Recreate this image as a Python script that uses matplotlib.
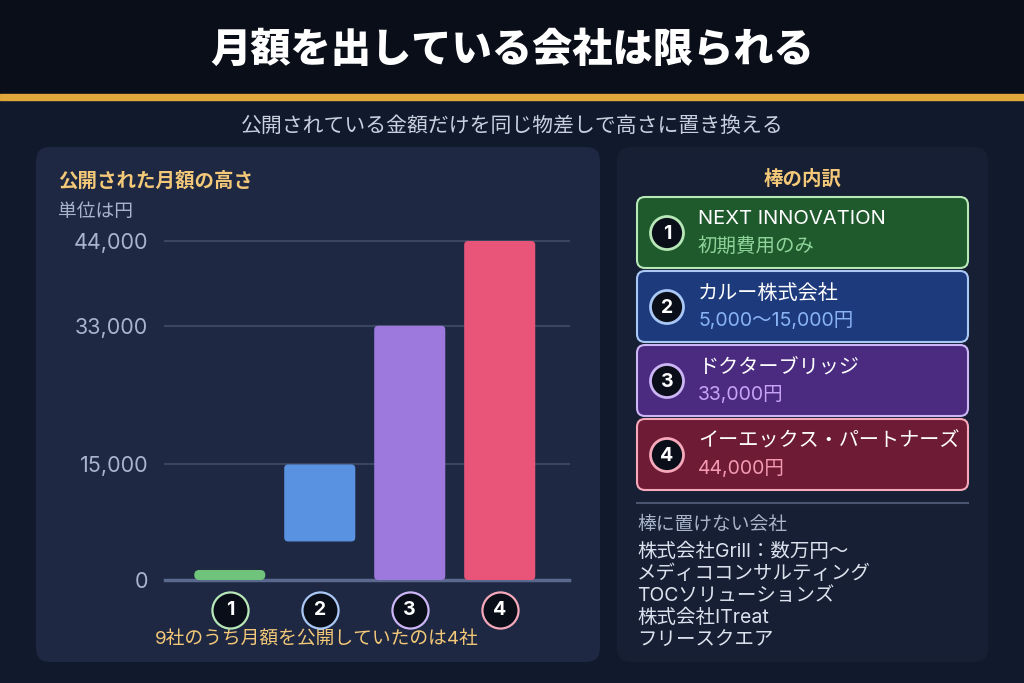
import matplotlib
matplotlib.use('Agg')
import matplotlib.pyplot as plt
from matplotlib.patches import FancyBboxPatch, Circle
from matplotlib import transforms

plt.rcParams['font.family'] = ['Noto Sans CJK JP', 'DejaVu Sans']
LATIN = ['Inter', 'Noto Sans CJK JP', 'DejaVu Sans']   # Latin/digits first, CJK fallback

# Data
title = '月額を出している会社は限られる'
subtitle = '公開されている金額だけを同じ物差しで高さに置き換える'
companies = ['NEXT INNOVATION', 'カルー株式会社', 'ドクターブリッジ', 'イーエックス・パートナーズ']
notes = ['初期費用のみ', '5,000〜15,000円', '33,000円', '44,000円']
bar_low = [0, 5000, 0, 0]
bar_high = [1300, 15000, 33000, 44000]   # bar 1 is only a thin marker (no monthly fee)
yticks = [0, 15000, 33000, 44000]
marks = ['1', '2', '3', '4']
others = ['株式会社Grill：数万円〜', 'メディココンサルティング', 'TOCソリューションズ',
          '株式会社ITreat', 'フリースクエア']
footnote = '9社のうち月額を公開していたのは4社'

# Colours
bar_colors = ['#6fc37b', '#5a92e2', '#9d79de', '#e85579']
box_fill = ['#1f5a2d', '#1d3b7c', '#4a2b80', '#6e1b36']
edge_colors = ['#b8e8b8', '#a9c8f5', '#cdb6f6', '#f5a9ba']
note_colors = ['#8fd49a', '#8ab4f5', '#c9a4f5', '#f59ab2']
gold = '#f3c878'
muted = '#a9b4cc'

fig = plt.figure(figsize=(10.24, 6.83), dpi=100)
fig.patch.set_facecolor('#111a2c')

# full-figure axes in pixel coords for the decorations
bg = fig.add_axes([0, 0, 1, 1])
bg.set_xlim(0, 1024)
bg.set_ylim(683, 0)
bg.axis('off')

bg.add_patch(plt.Rectangle((0, 0), 1024, 95, color='#0a0e18', zorder=0))
bg.add_patch(plt.Rectangle((0, 94), 1024, 6, color='#e0a83a', zorder=1))
bg.text(512, 50, title, color='white', fontsize=29, fontweight='black',
        ha='center', va='center')
bg.text(512, 126, subtitle, color='#c8d0e0', fontsize=15, ha='center', va='center')

# panels
bg.add_patch(FancyBboxPatch((36, 147), 564, 515, boxstyle='round,pad=0,rounding_size=14',
                            fc='#1e2842', ec='none', zorder=0))
bg.add_patch(FancyBboxPatch((617, 147), 371, 515, boxstyle='round,pad=0,rounding_size=14',
                            fc='#161f33', ec='none', zorder=0))

bg.text(58, 181, '公開された月額の高さ', color=gold, fontsize=14, fontweight='bold',
        ha='left', va='center')
bg.text(58, 211, '単位は円', color=muted, fontsize=13.5, ha='left', va='center')

# legend boxes on the right
bg.text(803, 179, '棒の内訳', color=gold, fontsize=14, fontweight='bold',
        ha='center', va='center')
box_tops = [197, 271, 345, 419]
for i, top in enumerate(box_tops):
    bg.add_patch(FancyBboxPatch((637, top), 331, 71, boxstyle='round,pad=0,rounding_size=8',
                                fc=box_fill[i], ec=edge_colors[i], lw=1.5, zorder=2))
    bg.add_patch(Circle((667, top + 36), 16.5, fc='#0a0e18', ec=edge_colors[i], lw=2, zorder=3))
    bg.text(667, top + 37, marks[i], color='white', fontsize=14, fontweight='bold',
            family=LATIN, ha='center', va='center', zorder=4)
    bg.text(698, top + 22, companies[i], color='white', fontsize=14.5, family=LATIN,
            ha='left', va='center', zorder=4)
    bg.text(698, top + 50, notes[i], color=note_colors[i], fontsize=14, family=LATIN,
            ha='left', va='center', zorder=4)

bg.plot([637, 968], [503, 503], color='#4a5570', lw=1.5)
bg.text(637, 524, '棒に置けない会社', color=muted, fontsize=13.5, ha='left', va='center')
for k, name in enumerate(others):
    bg.text(637, 552 + k * 22, name, color='#dde3ee', fontsize=14, family=LATIN,
            ha='left', va='center')

bg.text(317, 640, footnote, color=gold, fontsize=13.5, family=LATIN,
        ha='center', va='center')

# bar chart
ax = fig.add_axes([165 / 1024, (683 - 580) / 683, 404 / 1024, 339 / 683])
ax.set_facecolor('none')
ax.set_xlim(-0.72, 3.77)
ax.set_ylim(0, 44000)
for s in ax.spines.values():
    s.set_visible(False)
ax.set_xticks([])
ax.set_yticks(yticks)
ax.set_yticklabels([f'{v:,}' for v in yticks], color=muted, fontsize=15.5, family=LATIN)
ax.tick_params(axis='y', length=0, pad=12)

for v in yticks[1:]:
    ax.axhline(v, color='#3a4560', lw=1.5, zorder=0, clip_on=False)
ax.axhline(0, color='#5a6890', lw=2.5, zorder=1, clip_on=False)

width = 0.79
px_x = 4.49 / 404           # data units per pixel, x
px_y = 44000 / 339          # data units per pixel, y
aspect = px_y / px_x
for i in range(len(bar_high)):
    h = bar_high[i] - bar_low[i]
    r = 5 if i == 0 else 4
    ax.add_patch(FancyBboxPatch((i - width / 2, bar_low[i]), width, h,
                                boxstyle=f'round,pad=0,rounding_size={r * px_x}',
                                mutation_aspect=aspect, fc=bar_colors[i], ec='none',
                                zorder=2, clip_on=False))

# numbered circles under the bars
trans = transforms.blended_transform_factory(ax.transData, ax.transAxes)
circ_y = -(610 - 580) / 339
for i in range(len(marks)):
    ax.plot(i, circ_y, marker='o', markersize=26, markerfacecolor='#0a0e18',
            markeredgecolor=edge_colors[i], markeredgewidth=1.6,
            transform=trans, clip_on=False)
    ax.text(i, circ_y, marks[i], color='white', fontsize=14, fontweight='bold',
            family=LATIN, ha='center', va='center', transform=trans)

fig.savefig('out.png', dpi=100, facecolor=fig.get_facecolor())
